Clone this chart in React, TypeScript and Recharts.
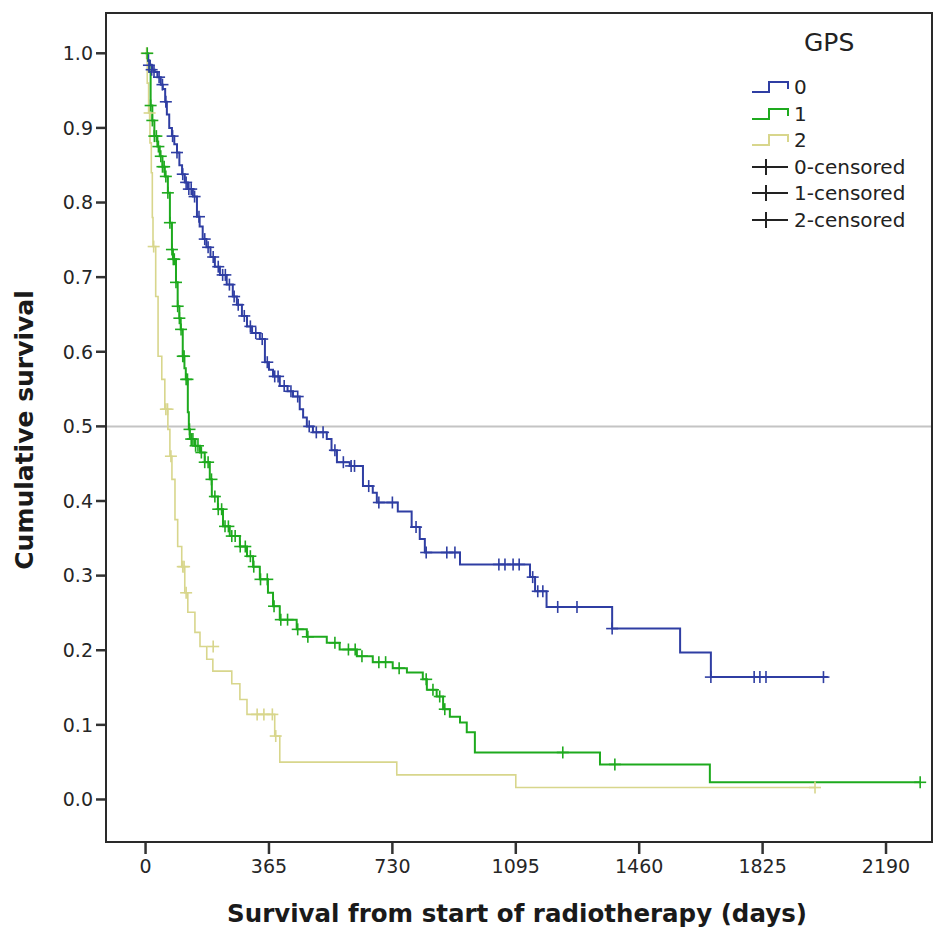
import React from "react";
import {
  ComposedChart,
  Line,
  Scatter,
  XAxis,
  YAxis,
  ReferenceLine,
} from "recharts";

// Kaplan-Meier steps: [day, cumulative survival]
const gps0Steps: [number, number][] = [
  [0, 1.0], [8, 0.99], [13, 0.984], [20, 0.978], [27, 0.975], [35, 0.968], [45, 0.958],
  [51, 0.952], [58, 0.935], [63, 0.918], [70, 0.9], [78, 0.889], [85, 0.878], [93, 0.867],
  [100, 0.85], [108, 0.838], [116, 0.827], [125, 0.818], [140, 0.808], [152, 0.781],
  [160, 0.768], [169, 0.751], [180, 0.74], [192, 0.727], [205, 0.714], [220, 0.703],
  [240, 0.69], [258, 0.674], [270, 0.663], [285, 0.648], [300, 0.634], [315, 0.625],
  [338, 0.617], [353, 0.586], [365, 0.576], [377, 0.567], [397, 0.554], [420, 0.547],
  [436, 0.54], [456, 0.523], [466, 0.512], [477, 0.5], [495, 0.492], [536, 0.483],
  [550, 0.468], [566, 0.452], [604, 0.447], [643, 0.42], [672, 0.411], [684, 0.398],
  [746, 0.386], [787, 0.365], [811, 0.349], [826, 0.331], [930, 0.315], [1137, 0.298],
  [1152, 0.279], [1186, 0.258], [1380, 0.229], [1581, 0.197], [1672, 0.164], [2018, 0.164],
];

const gps1Steps: [number, number][] = [
  [0, 1.0], [7, 0.99], [12, 0.975], [15, 0.93], [20, 0.91], [26, 0.889], [35, 0.875],
  [42, 0.862], [50, 0.848], [57, 0.835], [66, 0.813], [72, 0.773], [78, 0.737], [81, 0.724],
  [90, 0.693], [95, 0.661], [100, 0.645], [104, 0.63], [110, 0.594], [115, 0.578],
  [119, 0.563], [125, 0.519], [128, 0.496], [131, 0.483], [145, 0.474], [161, 0.465],
  [175, 0.452], [190, 0.429], [196, 0.406], [214, 0.389], [229, 0.366], [249, 0.353],
  [279, 0.339], [300, 0.326], [318, 0.312], [338, 0.295], [362, 0.277], [377, 0.259],
  [397, 0.241], [447, 0.228], [477, 0.218], [536, 0.21], [574, 0.201], [625, 0.192],
  [672, 0.184], [731, 0.176], [773, 0.17], [820, 0.161], [832, 0.147], [861, 0.138],
  [880, 0.121], [900, 0.111], [930, 0.103], [950, 0.09], [974, 0.063], [1344, 0.047],
  [1669, 0.023], [2291, 0.023],
];

const gps2Steps: [number, number][] = [
  [0, 1.0], [5, 0.96], [9, 0.92], [13, 0.88], [17, 0.84], [20, 0.78], [22, 0.741],
  [30, 0.674], [37, 0.594], [48, 0.563], [57, 0.523], [66, 0.496], [72, 0.46], [78, 0.429],
  [87, 0.375], [95, 0.339], [107, 0.312], [116, 0.277], [125, 0.251], [146, 0.224],
  [161, 0.205], [181, 0.188], [199, 0.172], [255, 0.155], [279, 0.134], [300, 0.114],
  [382, 0.085], [397, 0.05], [743, 0.033], [1095, 0.016], [1980, 0.016],
];

// censored observations
const gps0Censored: [number, number][] = [
  [10, 0.984], [18, 0.978], [25, 0.975], [40, 0.968], [50, 0.958], [60, 0.935], [80, 0.889],
  [93, 0.867], [110, 0.838], [120, 0.827], [128, 0.818], [135, 0.818], [145, 0.808],
  [158, 0.781], [175, 0.751], [185, 0.74], [200, 0.727], [215, 0.714], [228, 0.703],
  [236, 0.703], [248, 0.69], [262, 0.674], [274, 0.663], [292, 0.648], [310, 0.634],
  [326, 0.625], [345, 0.617], [360, 0.586], [382, 0.567], [392, 0.567], [410, 0.554],
  [430, 0.547], [450, 0.54], [484, 0.5], [505, 0.492], [525, 0.492], [560, 0.468],
  [585, 0.452], [608, 0.447], [618, 0.447], [660, 0.42], [690, 0.398], [730, 0.398],
  [800, 0.365], [830, 0.331], [891, 0.331], [915, 0.331], [1045, 0.315], [1063, 0.315],
  [1087, 0.315], [1105, 0.315], [1145, 0.298], [1160, 0.279], [1175, 0.279], [1219, 0.258],
  [1276, 0.258], [1380, 0.229], [1672, 0.164], [1800, 0.164], [1817, 0.164], [1835, 0.164],
  [2005, 0.164],
];

const gps1Censored: [number, number][] = [
  [5, 1.0], [15, 0.93], [20, 0.91], [26, 0.889], [32, 0.889], [38, 0.875], [45, 0.862],
  [50, 0.848], [55, 0.848], [60, 0.835], [66, 0.813], [72, 0.773], [78, 0.737], [82, 0.724],
  [85, 0.724], [90, 0.693], [95, 0.661], [100, 0.645], [105, 0.63], [110, 0.594],
  [114, 0.594], [120, 0.563], [124, 0.563], [130, 0.496], [135, 0.483], [140, 0.483],
  [148, 0.474], [155, 0.474], [165, 0.465], [175, 0.452], [185, 0.452], [195, 0.429],
  [205, 0.406], [215, 0.389], [225, 0.389], [235, 0.366], [245, 0.366], [255, 0.353],
  [265, 0.353], [280, 0.339], [295, 0.339], [310, 0.326], [320, 0.312], [340, 0.295],
  [360, 0.295], [380, 0.259], [400, 0.241], [420, 0.241], [450, 0.228], [480, 0.218],
  [560, 0.21], [600, 0.201], [620, 0.201], [640, 0.192], [690, 0.184], [710, 0.184],
  [750, 0.176], [830, 0.161], [850, 0.147], [870, 0.138], [885, 0.121], [1234, 0.063],
  [1388, 0.047], [2291, 0.023],
];

const gps2Censored: [number, number][] = [
  [3, 1.0], [12, 0.92], [24, 0.741], [60, 0.523], [65, 0.523], [75, 0.46], [110, 0.312],
  [114, 0.312], [120, 0.277], [200, 0.205], [330, 0.114], [350, 0.114], [375, 0.114],
  [385, 0.085], [1980, 0.016],
];

const xTicks = [0, 365, 730, 1095, 1460, 1825, 2190];
const yTicks = [0, 0.1, 0.2, 0.3, 0.4, 0.5, 0.6, 0.7, 0.8, 0.9, 1.0];

const BLUE = "#2f3ea3";
const GREEN = "#1eaa1e";
const YELLOW = "#d8d68c";

const toRows = (pts: [number, number][]) => pts.map(([day, s]) => ({ day, s }));

const Plus = (props: any) => {
  const { cx, cy, fill } = props;
  if (cx == null || cy == null) return null;
  return (
    <g>
      <line x1={cx - 6} x2={cx + 6} y1={cy} y2={cy} stroke={fill} strokeWidth={1.6} />
      <line x1={cx} x2={cx} y1={cy - 6} y2={cy + 6} stroke={fill} strokeWidth={1.6} />
    </g>
  );
};

const tickStyle = { fontFamily: "DejaVu Sans", fontSize: 19, fill: "#262626" };

const legendItems = [
  { label: "0", color: BLUE, kind: "step" },
  { label: "1", color: GREEN, kind: "step" },
  { label: "2", color: YELLOW, kind: "step" },
  { label: "0-censored", color: "#222", kind: "plus" },
  { label: "1-censored", color: "#222", kind: "plus" },
  { label: "2-censored", color: "#222", kind: "plus" },
];

const LegendBox = () => (
  <div style={{ position: "absolute", left: 742, top: 22, fontFamily: "DejaVu Sans", color: "#222" }}>
    <div style={{ fontSize: 25, marginLeft: 54, lineHeight: "26px", marginBottom: 18 }}>GPS</div>
    {legendItems.map((it) => (
      <div key={it.label} style={{ display: "flex", alignItems: "center", height: 26.5 }}>
        <svg width={42} height={20} style={{ marginRight: 2 }}>
          {it.kind === "step" ? (
            <path d="M2 15 H19 V5 H38 V12" fill="none" stroke={it.color} strokeWidth={2} />
          ) : (
            <g stroke={it.color} strokeWidth={2}>
              <line x1={2} x2={38} y1={10} y2={10} />
              <line x1={16} x2={16} y1={2} y2={18} />
            </g>
          )}
        </svg>
        <span style={{ fontSize: 20 }}>{it.label}</span>
      </div>
    ))}
  </div>
);

export default function App() {
  return (
    <div style={{ position: "relative", width: 937, height: 932 }}>
      <ComposedChart width={937} height={932} margin={{ top: 5, right: 13, left: 38, bottom: 38 }}>
        <XAxis
          type="number"
          dataKey="day"
          domain={[-117, 2326]}
          ticks={xTicks}
          allowDataOverflow
          axisLine={false}
          tickLine={{ stroke: "#333", strokeWidth: 2.5 }}
          tickSize={12}
          tickMargin={6}
          height={60}
          tick={tickStyle}
        />
        <YAxis
          type="number"
          dataKey="s"
          domain={[-0.057, 1.054]}
          ticks={yTicks}
          allowDataOverflow
          axisLine={false}
          tickLine={{ stroke: "#333", strokeWidth: 2.5 }}
          tickSize={10}
          tickMargin={3}
          width={60}
          tick={tickStyle}
          tickFormatter={(v: number) => v.toFixed(1)}
        />
        <ReferenceLine y={0.5} stroke="#c4c4c4" strokeWidth={2} />
        <Line data={toRows(gps2Steps)} dataKey="s" type="stepAfter" stroke={YELLOW} strokeWidth={1.6} dot={false} isAnimationActive={false} />
        <Line data={toRows(gps1Steps)} dataKey="s" type="stepAfter" stroke={GREEN} strokeWidth={2} dot={false} isAnimationActive={false} />
        <Line data={toRows(gps0Steps)} dataKey="s" type="stepAfter" stroke={BLUE} strokeWidth={2} dot={false} isAnimationActive={false} />
        <Scatter data={toRows(gps2Censored)} dataKey="s" fill={YELLOW} shape={Plus} isAnimationActive={false} />
        <Scatter data={toRows(gps1Censored)} dataKey="s" fill={GREEN} shape={Plus} isAnimationActive={false} />
        <Scatter data={toRows(gps0Censored)} dataKey="s" fill={BLUE} shape={Plus} isAnimationActive={false} />
      </ComposedChart>
      {/* plot frame */}
      <div
        style={{
          position: "absolute",
          left: 97,
          top: 4,
          width: 828,
          height: 831,
          border: "2.5px solid #2a2a2a",
          boxSizing: "border-box",
          pointerEvents: "none",
        }}
      />
      <div
        style={{
          position: "absolute",
          left: 0,
          width: 1018,
          top: 891,
          textAlign: "center",
          fontFamily: "DejaVu Sans",
          fontWeight: "bold",
          fontSize: 24.5,
          color: "#1a1a1a",
          whiteSpace: "nowrap",
        }}
      >
        Survival from start of radiotherapy (days)
      </div>
      <div
        style={{
          position: "absolute",
          left: 16,
          top: 422,
          transform: "translate(-50%, -50%) rotate(-90deg)",
          fontFamily: "DejaVu Sans",
          fontWeight: "bold",
          fontSize: 25,
          color: "#1a1a1a",
          whiteSpace: "nowrap",
        }}
      >
        Cumulative survival
      </div>
      <LegendBox />
    </div>
  );
}
